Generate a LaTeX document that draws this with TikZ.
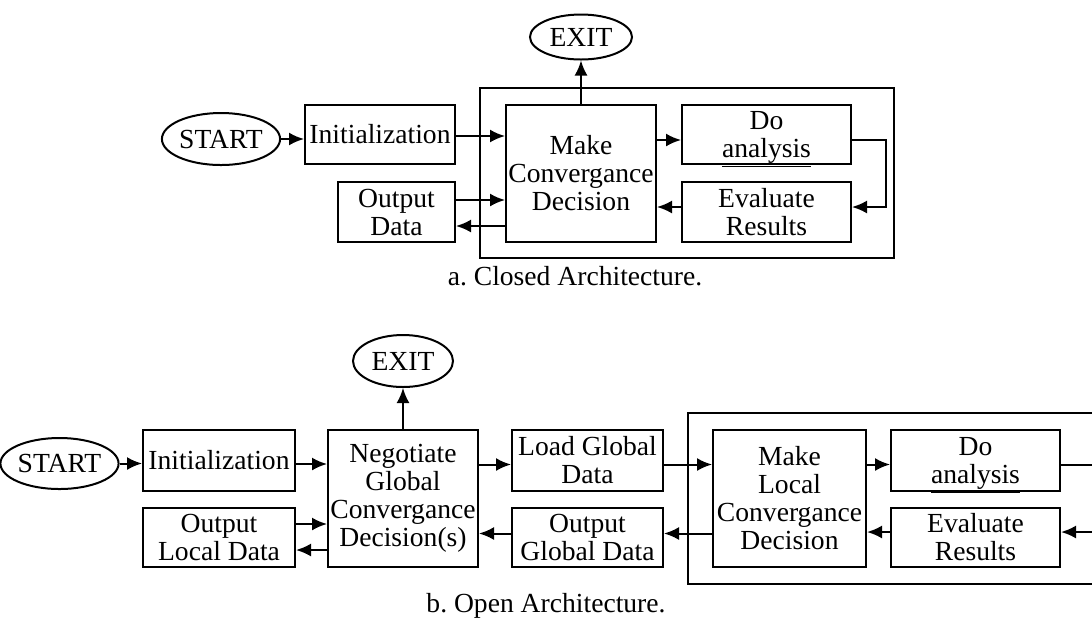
\documentclass[tikz,border=0pt]{standalone}
\usepackage{fontspec}
\setmainfont{Liberation Serif}
\usetikzlibrary{arrows.meta,calc,shapes.geometric}
\tikzset{
	blk/.style={draw, line width=1pt, inner sep=0.5pt, align=center},
	term/.style={draw, ellipse, line width=1pt, inner sep=0pt},
	arr/.style={-{Latex[length=7.5pt,width=6.5pt]}, line width=1pt},
}
\frenchspacing

\begin{document}
\begin{tikzpicture}[x=0.5pt, y=-0.5pt, font=\fontsize{13.8}{14}\selectfont]
			%%%%% START %%%%%
			\useasboundingbox (0,0) rectangle (1092,623);
			\clip (0,0) rectangle (1092,623);
			
			% a. closed
			\draw[line width=1pt] (480,88) rectangle (894,258);
			
			\node[term, minimum width=50pt, minimum height=26pt] (start) at (221,139) {START};
			\node[term, minimum width=51pt, minimum height=22.5pt] (exit) at (581,37) {EXIT};
			\node[blk, minimum width=75pt, minimum height=29.5pt] (init) at (380,134.5) {Initialization};
			\node[blk, minimum width=58.5pt, minimum height=30pt] (outd) at (396.5,212) {Output\\Data};
			\node[blk, minimum width=75pt, minimum height=68.5pt] (make) at (581,173.5) {Make\\Convergance\\Decision};
			\node[blk, minimum width=84.5pt, minimum height=29.5pt] (doan) at (766.5,134.5) {Do\\\smash{\underline{analysis}}};
			\node[blk, minimum width=84.5pt, minimum height=30pt] (eval) at (766.5,212) {Evaluate\\Results};
			\node (capa) at (575,276) {a. Closed Architecture.};
			
			\draw[arr] (start.east) -- (start.east -| init.west);
			\draw[arr] ([yshift=-0.75pt]init.east) -- ([yshift=-0.75pt]init.east -| make.west);
			\draw[arr] ([yshift=6pt]outd.east) -- ([yshift=6pt]outd.east -| make.west);
			\draw[arr] ([yshift=-7pt]outd.east -| make.west) -- ([yshift=-7pt]outd.east);
			\draw[arr] ([yshift=-2.75pt]doan.west -| make.east) -- ([yshift=-2.75pt]doan.west);
			\draw[arr] ([yshift=-2.75pt]doan.east) -- ++(34,0) |- ([yshift=2.5pt]eval.east);
			\draw[arr] ([yshift=2.5pt]eval.west) -- ([yshift=2.5pt]eval.west -| make.east);
			\draw[arr] (make.north) -- (exit.south);
			
			% b. open
			\draw[line width=1pt] (688,413) rectangle (1140,584);
			
			\node[term, minimum width=50.5pt, minimum height=25.5pt] (start2) at (59.5,463.5) {START};
			\node[term, minimum width=50pt, minimum height=26pt] (exit2) at (403,361) {EXIT};
			\node[blk, minimum width=76pt, minimum height=30.5pt] (init2) at (219,460.5) {Initialization};
			\node[blk, minimum width=76pt, minimum height=29.5pt] (outl) at (219,537.5) {Output\\Local Data};
			\node[blk, minimum width=75pt, minimum height=68.5pt] (neg) at (403,498.5) {Negotiate\\Global\\Convergance\\Decision(s)};
			\node[blk, minimum width=75.5pt, minimum height=30.5pt] (load) at (587.5,460.5) {Load Global\\Data};
			\node[blk, minimum width=75.5pt, minimum height=29.5pt] (outg) at (587.5,537.5) {Output\\Global Data};
			\node[blk, minimum width=76.5pt, minimum height=68.5pt] (makel) at (789.5,498.5) {Make\\Local\\Convergance\\Decision};
			\node[blk, minimum width=84.5pt, minimum height=30.5pt] (doan2) at (975.5,460.5) {Do\\\smash{\underline{analysis}}};
			\node[blk, minimum width=84.5pt, minimum height=29.5pt] (eval2) at (975.5,537.5) {Evaluate\\Results};
			\node (capb) at (546,606) {b. Open Architecture.};
			
			\draw[arr] (start2.east) -- (start2.east -| init2.west);
			\draw[arr] ([yshift=-1.75pt]init2.east) -- ([yshift=-1.75pt]init2.east -| neg.west);
			\draw[arr] ([yshift=6.75pt]outl.east) -- ([yshift=6.75pt]outl.east -| neg.west);
			\draw[arr] ([yshift=-6.25pt]outl.east -| neg.west) -- ([yshift=-6.25pt]outl.east);
			\draw[arr] ([yshift=-2pt]load.west -| neg.east) -- ([yshift=-2pt]load.west);
			\draw[arr] ([yshift=2pt]outg.west) -- ([yshift=2pt]outg.west -| neg.east);
			\draw[arr] ([yshift=-2pt]load.east) -- ([yshift=-2pt]load.east -| makel.west);
			\draw[arr] ([yshift=2pt]outg.east -| makel.west) -- ([yshift=2pt]outg.east);
			\draw[arr] ([yshift=-2pt]doan2.west -| makel.east) -- ([yshift=-2pt]doan2.west);
			\draw[arr] ([yshift=-2pt]doan2.east) -- ++(60,0) |- ([yshift=2.75pt]eval2.east);
			\draw[arr] ([yshift=2.75pt]eval2.west) -- ([yshift=2.75pt]eval2.west -| makel.east);
			\draw[arr] (neg.north) -- (exit2.south);
			%%%%% END %%%%%
\end{tikzpicture}
\end{document}
